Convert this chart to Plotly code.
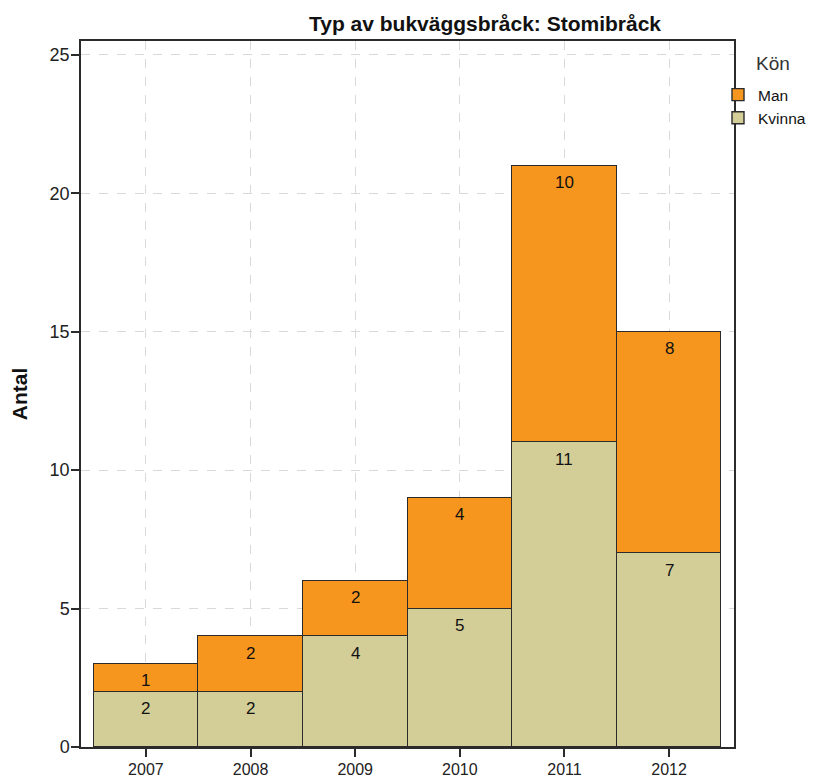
import plotly.graph_objects as go

years = ["2007", "2008", "2009", "2010", "2011", "2012"]
kvinna = [2, 2, 4, 5, 11, 7]
man = [1, 2, 2, 4, 10, 8]

title_text = "Typ av bukväggsbråck: Stomibråck"
y_title = "Antal"
legend_title = "Kön"

col_man = "#F7961E"
col_kvinna = "#D3CE98"
line_col = "#2b2b2b"
font = "Liberation Sans, Arial, sans-serif"

# page has an 8px body margin; layout below accounts for it
OFF = 8
W, H = 814, 778
PL, PR, PT, PB = 81 - OFF, 734 - OFF, 41 - OFF, 747 - OFF  # plot edges in figure px
pw = PR - PL
ph = PB - PT

fig = go.Figure()
fig.add_trace(go.Bar(x=years, y=kvinna, name="Kvinna",
                     marker=dict(color=col_kvinna, line=dict(color=line_col, width=1.4))))
fig.add_trace(go.Bar(x=years, y=man, name="Man",
                     marker=dict(color=col_man, line=dict(color=line_col, width=1.4))))

# value labels near top of each segment
annotations = []
for i, yr in enumerate(years):
    for val, ytop in ((kvinna[i], kvinna[i]), (man[i], kvinna[i] + man[i])):
        annotations.append(dict(x=i, y=ytop, xref="x", yref="y", text=str(val),
                                showarrow=False, yanchor="middle", yshift=-17,
                                font=dict(family=font, size=17, color="#111")))

# legend heading
annotations.append(dict(x=(773 - OFF - PL) / pw, y=(PB - (63 - OFF)) / ph, xref="paper", yref="paper",
                        text=legend_title, showarrow=False, xanchor="center", yanchor="middle",
                        font=dict(family=font, size=19, color="#333")))

fig.update_layout(
    width=W, height=H,
    margin=dict(l=PL, r=W - PR, t=PT, b=H - PB, autoexpand=False),
    paper_bgcolor="white", plot_bgcolor="white",
    barmode="stack", bargap=0,
    font=dict(family=font, size=16, color="#222"),
    title=dict(text="<b>" + title_text + "</b>", x=(485 - OFF - PL) / pw, xref="paper",
               xanchor="center", y=1 - (24 - OFF) / H, yref="container", yanchor="middle",
               font=dict(family=font, size=21, color="#111")),
    legend=dict(traceorder="reversed", x=(718 - OFF - PL) / pw, xanchor="left",
                y=(PB - (78 - OFF)) / ph, yanchor="top",
                font=dict(family=font, size=15.5, color="#111"),
                itemwidth=30, tracegroupgap=0, bgcolor="rgba(0,0,0,0)"),
    annotations=annotations,
)
fig.update_xaxes(type="category", range=[-0.62, 5.62], showline=True, mirror=True,
                 linecolor=line_col, linewidth=1.5, ticks="outside", ticklen=8,
                 tickcolor=line_col, tickwidth=1.5, automargin=False, ticklabelstandoff=-1,
                 showgrid=True, gridcolor="#d9d9d9", griddash="dash", gridwidth=1,
                 tickfont=dict(family=font, size=16, color="#222"))
fig.update_yaxes(range=[0, 25.5], tickvals=[0, 5, 10, 15, 20, 25], showline=True, mirror=True,
                 linecolor=line_col, linewidth=1.5, ticks="outside", ticklen=8,
                 tickcolor=line_col, tickwidth=1.5, automargin=False, ticklabelstandoff=-2,
                 showgrid=True, gridcolor="#d9d9d9", griddash="dash", gridwidth=1,
                 zeroline=False,
                 title=dict(text="<b>" + y_title + "</b>", standoff=16,
                            font=dict(family=font, size=21, color="#111")),
                 tickfont=dict(family=font, size=18, color="#222"))

fig.write_html("out.html")
